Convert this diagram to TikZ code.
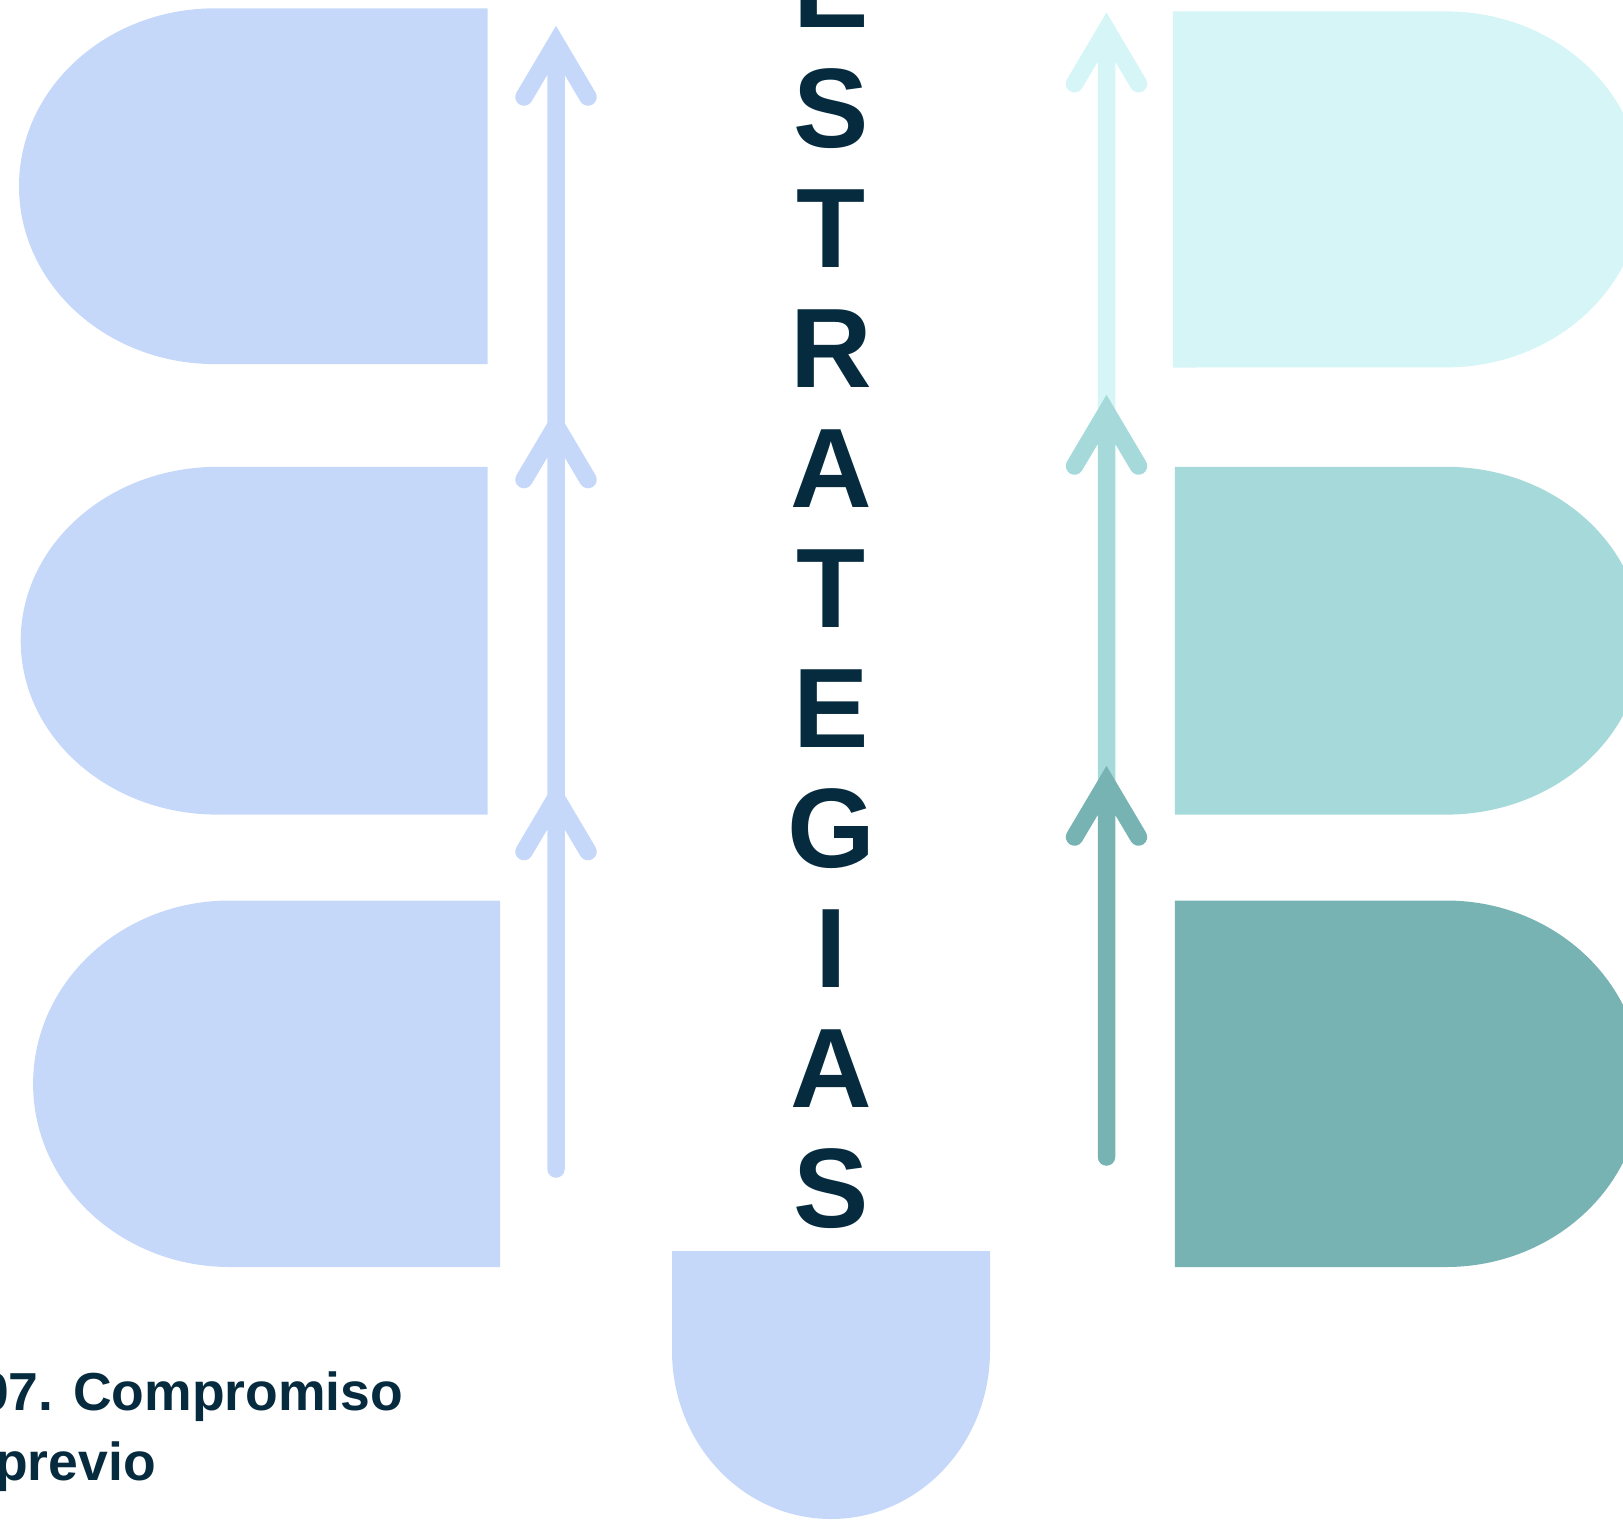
\documentclass[tikz,border=0pt]{standalone}
\usepackage{fontspec}
\setmainfont{Liberation Sans}
\usepackage{xcolor}
\definecolor{ink}{HTML}{062B3E}
\definecolor{lilac}{HTML}{C6D8FA}
\definecolor{mint}{HTML}{D5F5F6}
\definecolor{aqua}{HTML}{A5D9DA}
\definecolor{sea}{HTML}{77B3B3}
\usetikzlibrary{positioning}

\begin{document}
\begin{tikzpicture}[x=1pt, y=-1pt,
  shaft/.style={line width=17.5pt, line cap=round, miter limit=10},
  letter/.style={text=ink, font=\fontsize{113}{120}\selectfont\bfseries, anchor=base, inner sep=0pt},
  caption/.style={text=ink, font=\fontsize{53.5}{70}\selectfont\bfseries, align=left, inner sep=0pt}]
\useasboundingbox (0,0) rectangle (1623,1519);
\clip (0,0) rectangle (1623,1519);

% left lobes
\fill[lilac] (487.5,8.3) -- (215,8.3) arc[start angle=270, end angle=90, x radius=196, y radius=177.9] -- (487.5,364) -- cycle;
\fill[lilac] (487.5,466.8) -- (217.4,466.8) arc[start angle=270, end angle=90, x radius=196.7, y radius=173.9] -- (487.5,814.6) -- cycle;
\fill[lilac] (500,900.5) -- (229.8,900.5) arc[start angle=270, end angle=90, x radius=196.7, y radius=183.25] -- (500,1267) -- cycle;

% right lobes
\fill[mint] (1172.8,11.4) -- (1446,11.4) arc[start angle=270, end angle=450, x radius=196, y radius=178] -- (1172.8,367.5) -- cycle;
\fill[aqua] (1174.8,466.8) -- (1446,466.8) arc[start angle=270, end angle=450, x radius=196, y radius=173.9] -- (1174.8,814.6) -- cycle;
\fill[sea] (1174.8,900.5) -- (1446,900.5) arc[start angle=270, end angle=450, x radius=196, y radius=183.25] -- (1174.8,1267) -- cycle;

% bottom lobe
\fill[lilac] (672,1251) -- (990,1251) -- (990,1351) arc[start angle=0, end angle=180, x radius=159, y radius=168] -- cycle;

% arrow points
\coordinate (l0) at (556,1169);
\coordinate (l1) at (556,797.6);
\coordinate (l2) at (556,425.6);
\coordinate (l3) at (556,43);
\coordinate (r0) at (1106.5,1157);
\coordinate (r1) at (1106.5,783);
\coordinate (r2) at (1106.5,412);
\coordinate (r3) at (1106.5,29.7);

\foreach \a/\b in {l0/l1, l1/l2, l2/l3}
  \draw[shaft, lilac] (\a) -- (\b) ++(-32,54) -- (\b) -- ++(32,54);
\foreach \a/\b/\c in {r2/r3/mint, r1/r2/aqua, r0/r1/sea}
  \draw[shaft, \c] (\a) -- (\b) ++(-32,54) -- (\b) -- ++(32,54);

% vertical word
\foreach \ch [count=\i] in {E,S,T,R,A,T,E,G,I,A,S}
  \node[letter] (c\i) at (831,{27+120*(\i-1)}) {\ch};

\node[caption, anchor=base west] (title) at (-21,1480) {07. Compromiso\\\hspace*{16pt}previo};
\end{tikzpicture}
\end{document}
